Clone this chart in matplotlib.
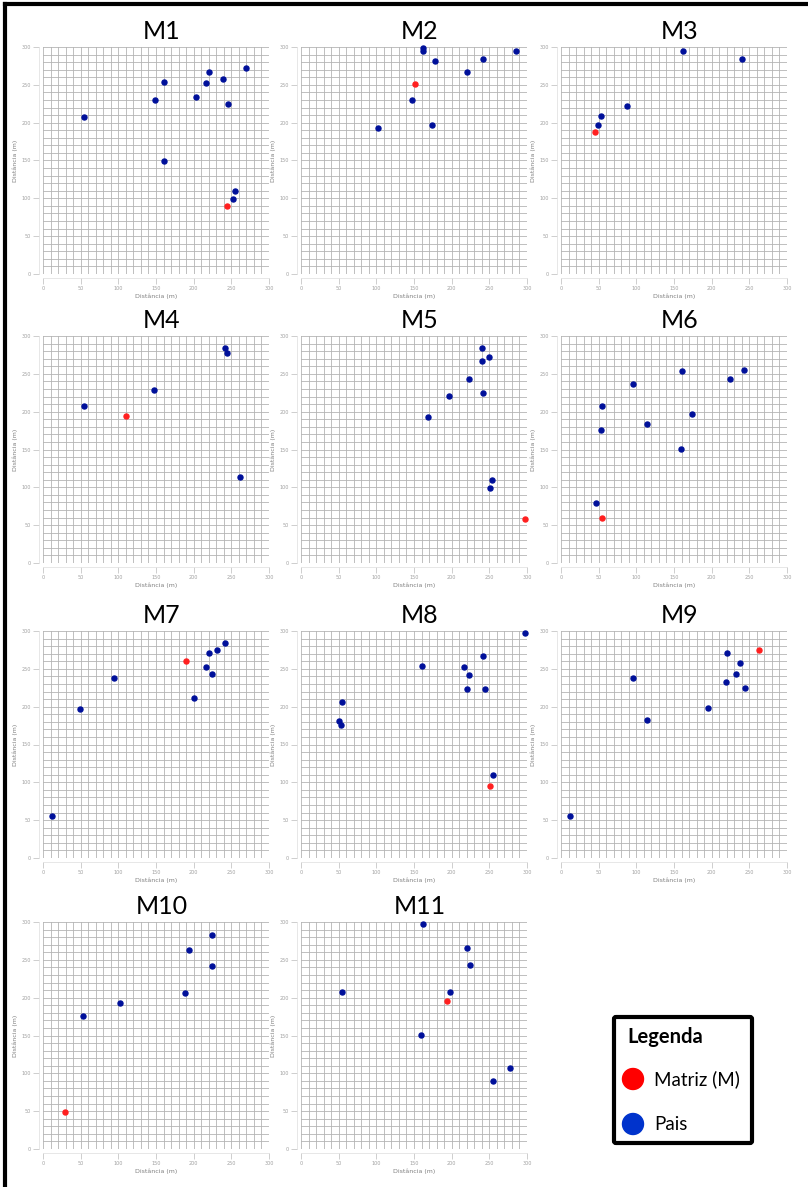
import matplotlib.pyplot as plt
from matplotlib.lines import Line2D
from matplotlib.patches import FancyBboxPatch, Circle
from matplotlib.ticker import MultipleLocator

W, H = 808, 1187

panels = ["M1", "M2", "M3", "M4", "M5", "M6", "M7", "M8", "M9", "M10", "M11"]

# matriz (red point), one per panel
matriz_x = [243.7, 151.5, 44.6, 109.7, 297.4, 54.0, 189.3, 250.3, 262.8, 28.8, 193.6]
matriz_y = [89.3, 251.3, 188.2, 194.9, 58.8, 59.7, 260.3, 94.9, 274.9, 49.3, 195.9]

# pais (blue points)
m1_x = [54.6, 148.2, 161.1, 161.1, 202.8, 216.6, 221.0, 238.8, 245.0, 269.9, 254.8, 252.1]
m1_y = [207.7, 229.8, 253.6, 148.9, 233.8, 252.8, 266.9, 257.6, 224.9, 271.8, 110.0, 99.4]
m2_x = [162.1, 162.6, 177.5, 220.3, 241.4, 285.0, 148.0, 174.0, 102.6]
m2_y = [298.7, 294.7, 281.6, 266.6, 284.2, 294.3, 229.7, 197.5, 192.3]
m3_x = [161.5, 240.9, 87.8, 52.5, 49.0]
m3_y = [295.2, 283.8, 221.4, 208.3, 197.4]
m4_x = [54.2, 148.0, 241.0, 243.6, 262.1]
m4_y = [207.2, 229.1, 284.3, 277.3, 113.0]
m5_x = [240.4, 249.7, 240.4, 223.6, 241.3, 195.8, 168.8, 253.2, 250.6]
m5_y = [284.5, 272.1, 267.3, 242.9, 224.3, 220.4, 192.9, 110.2, 99.1]
m6_x = [161.2, 242.4, 224.4, 95.3, 54.0, 174.4, 113.7, 52.7, 159.0, 46.1]
m6_y = [253.4, 255.2, 243.3, 237.2, 207.3, 197.2, 183.1, 176.1, 151.1, 79.1]
m7_x = [12.1, 49.1, 94.6, 200.0, 216.1, 221.0, 231.3, 241.1, 224.1]
m7_y = [55.7, 197.1, 237.3, 211.2, 252.3, 271.3, 275.3, 284.6, 243.5]
m8_x = [297.0, 241.1, 161.0, 216.0, 222.6, 220.4, 244.2, 54.1, 51.0, 53.2, 254.3]
m8_y = [296.9, 267.2, 253.2, 251.9, 242.2, 223.0, 223.9, 206.8, 181.0, 175.8, 109.8]
m9_x = [221.0, 237.9, 231.7, 218.8, 243.7, 95.0, 195.7, 113.6, 12.0]
m9_y = [271.4, 257.3, 243.2, 232.2, 224.2, 237.4, 198.2, 182.8, 55.5]
m10_x = [223.9, 193.8, 224.8, 188.0, 102.2, 53.1]
m10_y = [283.3, 263.5, 241.5, 206.3, 192.3, 176.4]
m11_x = [162.0, 219.9, 224.3, 198.0, 53.9, 158.9, 277.3, 255.5]
m11_y = [297.8, 266.0, 243.0, 207.3, 207.3, 151.3, 107.2, 90.0]

pais_x = [m1_x, m2_x, m3_x, m4_x, m5_x, m6_x, m7_x, m8_x, m9_x, m10_x, m11_x]
pais_y = [m1_y, m2_y, m3_y, m4_y, m5_y, m6_y, m7_y, m8_y, m9_y, m10_y, m11_y]

title_font = ["Lato", "DejaVu Sans"]

fig = plt.figure(figsize=(W / 100, H / 100), dpi=100)

# panel positions in pixels
col_left = [43, 301, 561]
row_top = [47, 336, 631, 922]
aw, ah = 226, 227

for i, name in enumerate(panels):
    r, c = divmod(i, 3)
    ax = fig.add_axes([col_left[c] / W, 1 - (row_top[r] + ah) / H, aw / W, ah / H])
    ax.set_xlim(0, 300)
    ax.set_ylim(0, 300)
    ax.xaxis.set_major_locator(MultipleLocator(50))
    ax.yaxis.set_major_locator(MultipleLocator(50))
    ax.xaxis.set_minor_locator(MultipleLocator(10))
    ax.yaxis.set_minor_locator(MultipleLocator(10))
    ax.grid(which="both", color="#b4b4b4", linewidth=0.6)
    ax.set_axisbelow(True)
    for side in ["top", "right"]:
        ax.spines[side].set_visible(False)
    for side in ["left", "bottom"]:
        ax.spines[side].set_position(("outward", 3))
        ax.spines[side].set_color("#dddddd")
        ax.spines[side].set_linewidth(0.5)
    ax.tick_params(which="major", length=4, width=0.5, color="#bbbbbb",
                   labelsize=3.5, labelcolor="#a0a0a0", pad=1.5)
    ax.tick_params(which="minor", length=0)
    ax.set_xlabel("Distância (m)", fontsize=4.5, color="#808080", labelpad=2)
    ax.set_ylabel("Distância (m)", fontsize=4.5, color="#808080", labelpad=3)
    ax.set_title(name, fontsize=18, family=title_font, x=0.525, pad=6)

    ax.scatter(pais_x[i], pais_y[i], s=13, color="#00109a", zorder=3, clip_on=False)
    ax.scatter(matriz_x[i], matriz_y[i], s=13, color="#ff2020", zorder=3, clip_on=False)

# legend box, drawn in its own pixel-unit axes
lx0, ly0, lw, lh = 611, 1014, 144, 132
lax = fig.add_axes([lx0 / W, 1 - (ly0 + lh) / H, lw / W, lh / H])
lax.set_xlim(0, lw)
lax.set_ylim(lh, 0)
lax.axis("off")
lax.add_patch(FancyBboxPatch((3, 3), lw - 6, lh - 6, boxstyle="round,pad=0,rounding_size=2",
                             facecolor="white", edgecolor="black", linewidth=3))
lax.text(16, 23, "Legenda", fontsize=14.5, fontweight="bold", family=title_font, va="center")
lax.add_patch(Circle((22, 65), 10.5, color="#ff0000"))
lax.add_patch(Circle((22, 110), 10.5, color="#0033cc"))
lax.text(43, 65, "Matriz (M)", fontsize=13.5, family=title_font, va="center")
lax.text(43, 110, "Pais", fontsize=13.5, family=title_font, va="center")

# outer frame (left and top edges)
fig.add_artist(Line2D([5 / W, 5 / W], [0, 1 - 4 / H], color="black", linewidth=3))
fig.add_artist(Line2D([5 / W, 1], [1 - 4 / H, 1 - 4 / H], color="black", linewidth=3))

fig.savefig("out.png", dpi=100)
